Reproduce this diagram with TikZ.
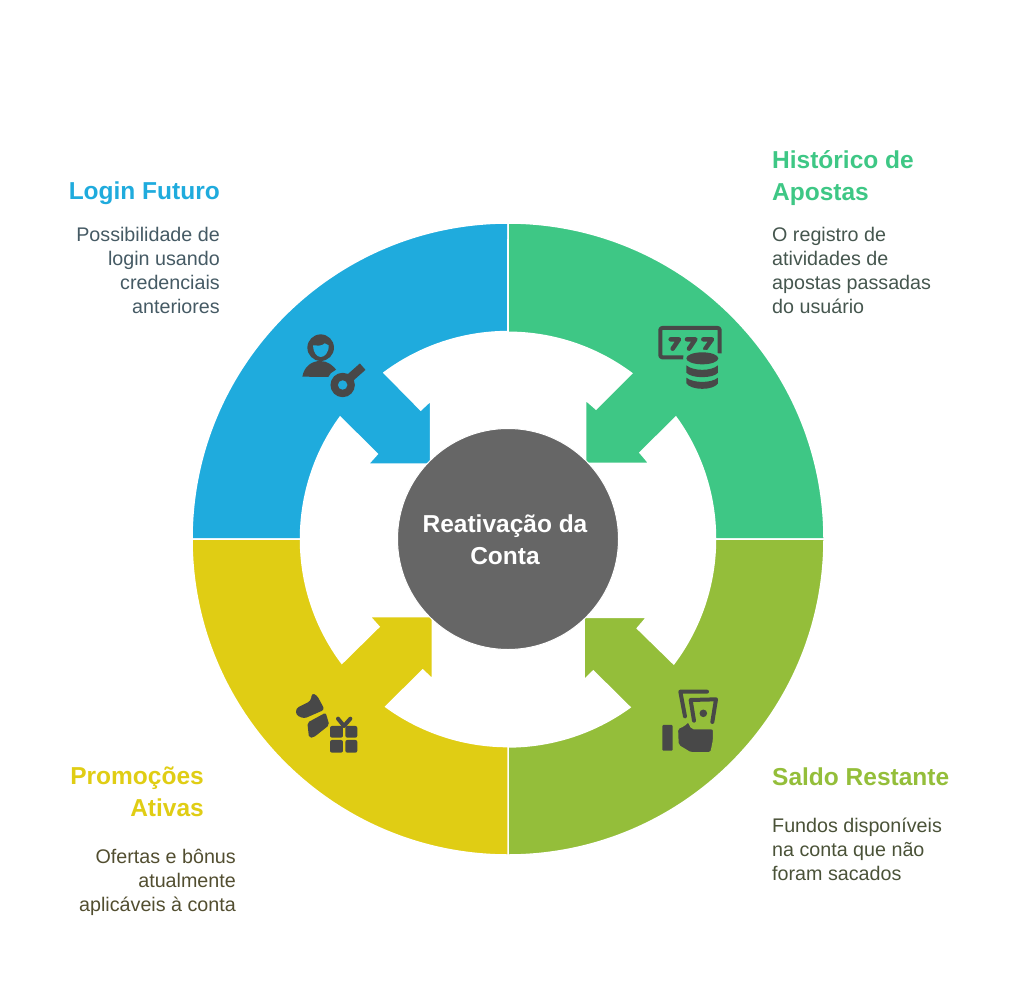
\documentclass[tikz,border=0pt]{standalone}
\usepackage{fontspec}
\setmainfont{Liberation Sans}
\definecolor{bluesec}{HTML}{1FABDD}
\definecolor{greensec}{HTML}{3EC785}
\definecolor{limesec}{HTML}{94BE3A}
\definecolor{yellowsec}{HTML}{E0CD14}
\definecolor{hubgray}{HTML}{666666}
\definecolor{icongray}{HTML}{484848}
\definecolor{bluetext}{HTML}{455A64}
\definecolor{greentext}{HTML}{45564E}
\definecolor{limetext}{HTML}{4A5238}
\definecolor{yellowtext}{HTML}{524E30}
\tikzset{
	sector/.style={draw=white, line width=1.5pt, line join=miter},
	heading/.style={inner sep=0pt, font=\fontsize{24.5}{31.5}\selectfont\bfseries},
	blurb/.style={inner sep=0pt, font=\fontsize{19.7}{24}\selectfont},
	glyph/.style={fill=icongray, draw=none},
	glyphline/.style={draw=icongray, line width=4pt, line cap=round, line join=round}
}
\begin{document}
\begin{tikzpicture}[x=1pt, y=-1pt]
	\useasboundingbox (0, 0) rectangle (1024, 984);

	%%%%% SECTORS %%%%%
	\draw[sector, fill=bluesec] (508, 223) arc[start angle=90, end angle=180, radius=316pt]
		-- (300.5, 539) arc[start angle=180, end angle=144, radius=207.5pt]
		-- (377.3, 454) -- (368.3, 464) -- (430.7, 464) -- (430.7, 400.7) -- (420.7, 410) -- (384, 372.7)
		arc[start angle=126.7, end angle=90, radius=207.4pt] -- cycle;
	\draw[sector, fill=greensec] (508, 223) arc[start angle=90, end angle=0, radius=316pt]
		-- (715.5, 539) arc[start angle=0, end angle=36, radius=207.5pt]
		-- (640, 452.7) -- (649, 463.3) -- (585.7, 463.3) -- (585.7, 400) -- (596, 409) -- (631.7, 373.3)
		arc[start angle=53.3, end angle=90, radius=206.8pt] -- cycle;
	\draw[sector, fill=limesec] (508, 855) arc[start angle=270, end angle=360, radius=316pt]
		-- (715.5, 539) arc[start angle=0, end angle=-37, radius=207.5pt]
		-- (637.3, 628.3) -- (646.7, 617.3) -- (584, 617.3) -- (584, 680) -- (593.3, 671) -- (630, 707.3)
		arc[start angle=-54.05, end angle=-90, radius=207.9pt] -- cycle;
	\draw[sector, fill=yellowsec] (508, 855) arc[start angle=270, end angle=180, radius=316pt]
		-- (300.5, 539) arc[start angle=180, end angle=216.8, radius=207.5pt]
		-- (379, 626.7) -- (370, 616.7) -- (432.3, 616.7) -- (432.3, 679) -- (422.7, 670) -- (385.7, 706.7)
		arc[start angle=233.9, end angle=270, radius=207.6pt] -- cycle;

	\node[circle, fill=hubgray, draw=white, line width=1pt, minimum size=221pt, inner sep=0pt] (hub) at (508, 539) {};
	\node[inner sep=0pt, align=center, text=white, font=\fontsize{24.5}{32}\selectfont\bfseries] (hubtext) at (505, 539.5) {Reativação da\\Conta};

	%%%%% ICONS %%%%%
	% user and key
	\begin{scope}[shift={(280, 310)}, x=0.3333pt, y=-0.3333pt]
		\fill[glyph] (122, 113) circle (13.3pt);
		\fill[bluesec] (99, 106) .. controls (112, 106) and (124, 110) .. (134, 100) .. controls (138, 104) and (142, 105) .. (146, 106)
			.. controls (147, 128) and (134, 141) .. (122, 141) .. controls (110, 141) and (99, 126) .. (99, 106) -- cycle;
		\fill[glyph] (67, 200) .. controls (72, 170) and (95, 153) .. (120, 153) .. controls (142, 153) and (160, 165) .. (172, 185)
			.. controls (160, 188) and (152, 195) .. (148, 201) -- cycle;
		\draw[bluesec, line width=9pt] (188, 225) circle (12pt);
		\draw[icongray, line width=8.5pt] (205, 208) -- (248, 170);
		\fill[glyph] (188, 225) circle (12.2pt);
		\fill[bluesec] (188, 225) circle (4.7pt);
	\end{scope}
	% slot machine and coins
	\begin{scope}[shift={(570, 310)}, x=0.3333pt, y=-0.3333pt]
		\draw[glyphline, line cap=butt, rounded corners=2pt] (340, 142) -- (271, 142) -- (271, 54) -- (449, 54) -- (449, 130);
		\draw[glyphline, line width=4.5pt] (302, 88) -- (327, 88) -- (308, 116);
		\draw[glyphline, line width=4.5pt] (351, 88) -- (376, 88) -- (357, 116);
		\draw[glyphline, line width=4.5pt] (400, 88) -- (426, 88) -- (406, 116);
		\fill[greensec] (397, 145) ellipse (19pt and 8.5pt);
		\fill[glyph] (397, 145) ellipse (16pt and 6pt);
		\fill[glyph] (349, 166) .. controls (370, 184) and (424, 184) .. (444, 166) -- (444, 188)
			.. controls (430, 206) and (364, 206) .. (349, 188) -- cycle;
		\fill[glyph] (349, 203) .. controls (370, 220) and (424, 220) .. (444, 203) -- (444, 220)
			.. controls (430, 242) and (364, 242) .. (349, 220) -- cycle;
	\end{scope}
	% hand and banknotes
	\begin{scope}[shift={(570, 600)}, x=0.3333pt, y=-0.3333pt]
		\fill[glyph, rounded corners=1pt] (277, 375) rectangle (308, 452);
		\draw[glyphline] (345, 349) -- (331, 275) -- (411, 275);
		\draw[glyphline] (372, 362) -- (362, 300) -- (438, 298) -- (427, 366);
		\fill[glyph] (400, 340) circle (3.8pt);
		\draw[limesec, line width=1.5pt, rounded corners=2pt, fill=icongray] (322, 385) -- (342, 377) -- (355, 364) -- (366, 386) -- (431, 386) -- (431, 420)
			-- (423, 459) -- (362, 459) -- (324, 436) -- cycle;
	\end{scope}
	% megaphone and gift
	\begin{scope}[shift={(280, 600)}, x=0.3333pt, y=-0.3333pt]
		\fill[glyph, rounded corners=3pt] (48, 325) -- (92, 303) -- (96, 279) -- (111, 286) -- (134, 329) -- (72, 356) -- (48, 345) -- cycle;
		\fill[glyph, rounded corners=2pt] (82, 368) -- (137, 338) -- (148, 375) -- (100, 413) -- (87, 413) -- cycle;
		\fill[glyph, rounded corners=2pt] (150, 378) rectangle (189, 413);
		\fill[glyph, rounded corners=2pt] (196, 378) rectangle (232, 413);
		\fill[glyph, rounded corners=2pt] (150, 420) rectangle (189, 458);
		\fill[glyph, rounded corners=2pt] (196, 420) rectangle (232, 458);
		\draw[glyphline] (174, 356) -- (192, 378) -- (211, 356);
	\end{scope}

	%%%%% LABELS %%%%%
	\node[heading, anchor=east, text=bluesec] (logintitle) at (220, 193) {Login Futuro};
	\node[blurb, anchor=north east, align=right, text=bluetext] (loginbody) at (220, 227) {Possibilidade de\\login usando\\credenciais\\anteriores};

	\node[heading, anchor=west, align=left, text=greensec] (historytitle) at (772, 178) {Histórico de\\Apostas};
	\node[blurb, anchor=north west, align=left, text=greentext] (historybody) at (772, 227) {O registro de\\atividades de\\apostas passadas\\do usuário};

	\node[heading, anchor=west, text=limesec] (balancetitle) at (772, 777) {Saldo Restante};
	\node[blurb, anchor=north west, align=left, text=limetext] (balancebody) at (772, 817.5) {Fundos disponíveis\\na conta que não\\foram sacados};

	\node[heading, anchor=east, align=right, text=yellowsec] (promotitle) at (204, 792) {Promoções\\Ativas};
	\node[blurb, anchor=north east, align=right, text=yellowtext] (promobody) at (236, 849) {Ofertas e bônus\\atualmente\\aplicáveis à conta};
\end{tikzpicture}
\end{document}
